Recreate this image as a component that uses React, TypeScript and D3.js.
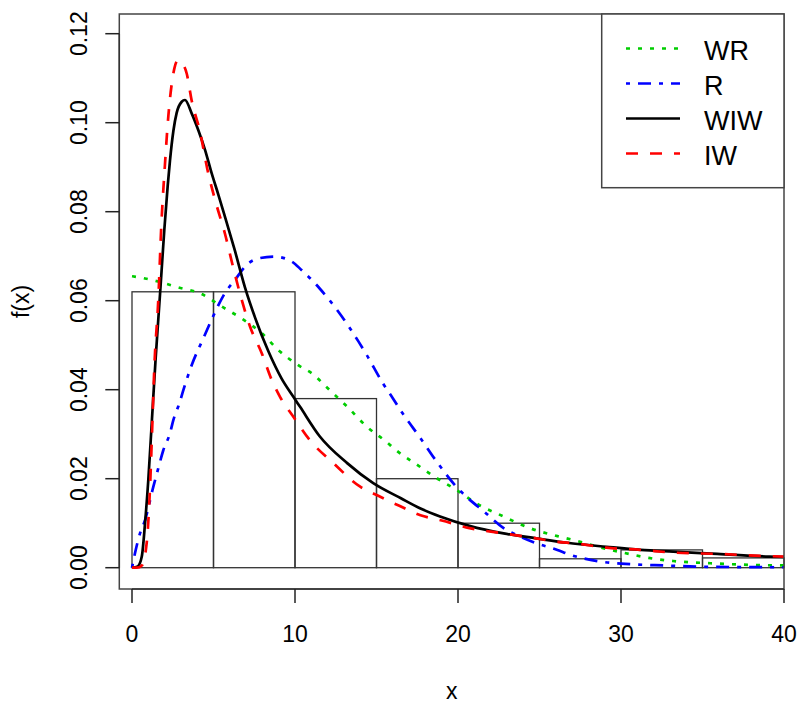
import React from "react";
import * as d3 from "d3";

// Histogram (density) bins
const binEdges = [0, 5, 10, 15, 20, 25, 30, 35, 40];
const binDensity = [0.062, 0.062, 0.038, 0.02, 0.01, 0.002, 0.004, 0.0022];

// Fitted densities
const wrX = [0, 0.8, 1.6, 2.84, 4.27, 5.5, 6.73, 7.96, 8.98, 10.2, 11.1, 11.9, 13.2, 14.4, 15.6, 16.2, 17.5, 18.7, 19.9, 21.1, 22.8, 24.4, 26.1, 27.1, 29.1, 30.5, 31.7, 33.2, 35.5, 37.3, 40];
const wrY = [0.0655, 0.065, 0.0643, 0.063, 0.0615, 0.0587, 0.056, 0.0527, 0.0489, 0.0455, 0.0435, 0.0407, 0.0362, 0.0317, 0.0283, 0.0264, 0.0231, 0.0201, 0.0175, 0.0145, 0.0115, 0.0089, 0.0071, 0.0062, 0.0042, 0.0031, 0.0022, 0.0015, 0.001, 0.0007, 0.0005];

const rX = [0, 0.18, 0.49, 0.8, 1.31, 1.61, 1.92, 2.33, 2.54, 2.94, 3.15, 3.66, 4.37, 4.89, 5.7, 6.32, 7.14, 7.75, 8.77, 9.8, 10.4, 11.5, 12.1, 13.3, 13.9, 14.4, 15.4, 16.0, 16.6, 17.7, 18.7, 19.9, 20.5, 21.6, 22.8, 23.8, 24.8, 26.1, 26.8, 28.7, 30.6, 32.6, 35.3, 40];
const rY = [0, 0.0032, 0.0077, 0.0107, 0.0182, 0.0223, 0.0264, 0.0302, 0.0332, 0.0373, 0.0399, 0.0455, 0.0515, 0.0558, 0.0617, 0.0647, 0.0684, 0.0695, 0.0699, 0.0688, 0.0669, 0.0628, 0.0602, 0.0542, 0.0508, 0.0478, 0.0414, 0.0381, 0.0347, 0.0291, 0.0238, 0.0182, 0.016, 0.0126, 0.0089, 0.007, 0.0055, 0.004, 0.003, 0.0014, 0.0008, 0.0005, 0.0002, 0.0001];

const wiwX = [0, 0.35, 0.6, 0.8, 1.0, 1.15, 1.3, 1.45, 1.72, 1.86, 1.98, 2.19, 2.33, 2.54, 2.74, 3.05, 3.25, 3.66, 4.07, 4.48, 4.89, 5.3, 5.7, 6.3, 6.93, 7.55, 8.36, 9.18, 9.9, 10.3, 11.5, 13.2, 14.8, 16.5, 17.7, 18.9, 20.7, 22.8, 24.8, 26.7, 29.1, 31.2, 33.2, 35.9, 39.1, 40];
const wiwY = [0, 0.0003, 0.0025, 0.01, 0.0197, 0.0287, 0.038, 0.047, 0.0615, 0.0692, 0.0758, 0.0858, 0.0915, 0.0982, 0.1022, 0.1047, 0.1051, 0.1021, 0.0983, 0.0939, 0.0886, 0.0838, 0.0789, 0.0714, 0.063, 0.0562, 0.0487, 0.0425, 0.0384, 0.0362, 0.0296, 0.0235, 0.019, 0.0156, 0.0133, 0.0115, 0.0094, 0.0077, 0.0066, 0.0056, 0.0047, 0.004, 0.0036, 0.0031, 0.0025, 0.0024];

const iwX = [0, 0.3, 0.6, 0.9, 1.1, 1.25, 1.37, 1.61, 1.8, 2.02, 2.23, 2.43, 2.6, 2.8, 3.05, 3.36, 3.66, 4.17, 4.68, 5.1, 5.7, 6.2, 6.73, 7.24, 7.96, 8.57, 9.08, 9.9, 10.9, 12.35, 14.0, 15.2, 16.4, 17.7, 19.0, 20.7, 22.8, 24.8, 26.1, 27.1, 29.1, 31.2, 33.2, 35.9, 39.1, 40];
const iwY = [0, 0, 0.0005, 0.0055, 0.0175, 0.0325, 0.045, 0.06, 0.077, 0.0905, 0.1015, 0.1085, 0.1122, 0.114, 0.1135, 0.111, 0.105, 0.098, 0.0886, 0.0826, 0.0751, 0.0676, 0.0602, 0.0542, 0.0482, 0.0422, 0.0384, 0.0339, 0.0287, 0.0235, 0.0182, 0.016, 0.0139, 0.0118, 0.0106, 0.0089, 0.0077, 0.0066, 0.0058, 0.0055, 0.0045, 0.004, 0.0034, 0.0031, 0.0026, 0.0025];

const xTicks = [0, 10, 20, 30, 40];
const yTicks = [0, 0.02, 0.04, 0.06, 0.08, 0.1, 0.12];

const legendLabels = ["WR", "R", "WIW", "IW"];
const seriesColors = ["#00cd00", "#0000ff", "#000000", "#ff0000"];
const seriesDash = ["4 8", "4 8 13 8", "none", "12 12"];

export default function App() {
  const W = 797;
  const H = 704;
  const x = d3.scaleLinear().domain([0, 40]).range([132, 784]);
  const y = d3.scaleLinear().domain([0, 0.12]).range([567.7, 33.7]);

  const boxL = 119.3;
  const boxR = 784;
  const boxT = 14;
  const boxB = 589;

  const line = d3
    .line<[number, number]>()
    .x((d) => x(d[0]))
    .y((d) => y(d[1]))
    .curve(d3.curveMonotoneX);

  const series = [
    { xs: wrX, ys: wrY },
    { xs: rX, ys: rY },
    { xs: wiwX, ys: wiwY },
    { xs: iwX, ys: iwY },
  ];

  const font = "Liberation Sans, Arial, Helvetica, sans-serif";

  return (
    <svg
      width={W}
      height={H}
      style={{ position: "absolute", left: 0, top: 0, background: "#fff" }}
      fontFamily={font}
    >
      <rect x={0} y={0} width={W} height={H} fill="#fff" />
      <defs>
        <clipPath id="plotclip">
          <rect x={boxL} y={boxT} width={boxR - boxL} height={boxB - boxT} />
        </clipPath>
      </defs>

      {/* histogram */}
      <g>
        {binDensity.map((v, i) => (
          <rect
            key={i}
            x={x(binEdges[i])}
            y={y(v)}
            width={x(binEdges[i + 1]) - x(binEdges[i])}
            height={y(0) - y(v)}
            fill="none"
            stroke="#333"
            strokeWidth={1.3}
          />
        ))}
      </g>

      {/* curves */}
      <g clipPath="url(#plotclip)">
        {series.map((s, i) => (
          <path
            key={i}
            d={line(s.xs.map((xv, j) => [xv, s.ys[j]] as [number, number])) || ""}
            fill="none"
            stroke={seriesColors[i]}
            strokeWidth={2.7}
            strokeDasharray={seriesDash[i]}
            strokeLinejoin="round"
          />
        ))}
      </g>

      {/* plot box */}
      <rect
        x={boxL}
        y={boxT}
        width={boxR - boxL}
        height={boxB - boxT}
        fill="none"
        stroke="#444"
        strokeWidth={1.5}
      />

      {/* x axis */}
      <g>
        <line x1={x(0)} x2={x(40)} y1={boxB} y2={boxB} stroke="#333" strokeWidth={1.5} />
        {xTicks.map((t) => (
          <g key={t}>
            <line x1={x(t)} x2={x(t)} y1={boxB} y2={boxB + 14} stroke="#222" strokeWidth={1.5} />
            <text x={x(t)} y={642} textAnchor="middle" fontSize={23} fill="#000">
              {t}
            </text>
          </g>
        ))}
        <text x={(boxL + boxR) / 2} y={699} textAnchor="middle" fontSize={23} fill="#000">
          x
        </text>
      </g>

      {/* y axis */}
      <g>
        <line x1={boxL} x2={boxL} y1={y(0)} y2={y(0.12)} stroke="#333" strokeWidth={1.5} />
        {yTicks.map((t) => (
          <g key={t}>
            <line x1={boxL - 14} x2={boxL} y1={y(t)} y2={y(t)} stroke="#222" strokeWidth={1.5} />
            <text
              transform={`translate(87, ${y(t)}) rotate(-90)`}
              textAnchor="middle"
              fontSize={23}
              fill="#000"
            >
              {t.toFixed(2)}
            </text>
          </g>
        ))}
        <text
          transform={`translate(29, ${(boxT + boxB) / 2}) rotate(-90)`}
          textAnchor="middle"
          fontSize={23}
          fill="#000"
        >
          f(x)
        </text>
      </g>

      {/* legend */}
      <g>
        <rect
          x={601.7}
          y={boxT}
          width={boxR - 601.7}
          height={187.7 - boxT}
          fill="#fff"
          stroke="#444"
          strokeWidth={1.5}
        />
        {legendLabels.map((lab, i) => {
          const ly = 48.5 + i * 35;
          return (
            <g key={lab}>
              <line
                x1={626}
                x2={680}
                y1={ly}
                y2={ly}
                stroke={seriesColors[i]}
                strokeWidth={2.7}
                strokeDasharray={seriesDash[i]}
              />
              <text x={704} y={ly + 2} dominantBaseline="central" fontSize={27} fill="#000">
                {lab}
              </text>
            </g>
          );
        })}
      </g>
    </svg>
  );
}
